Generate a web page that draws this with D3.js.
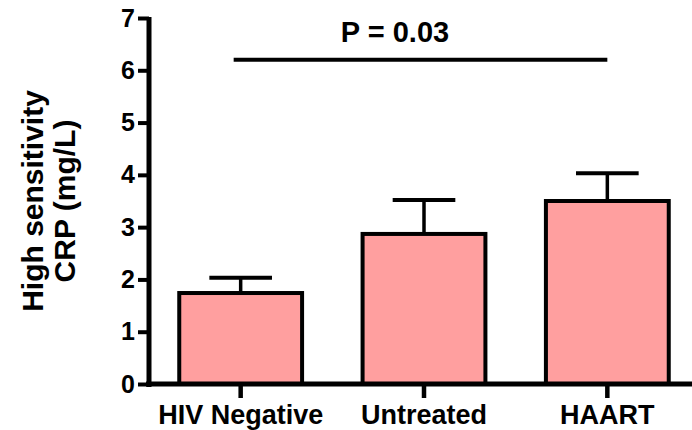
<!DOCTYPE html>
<html>
<head>
<meta charset="utf-8">
<script src="https://cdn.jsdelivr.net/npm/d3@7/dist/d3.min.js"></script>
<style>
  html, body { margin: 0; padding: 0; background: #fff; }
  svg { display: block; }
  text { font-family: "Liberation Sans", Arial, sans-serif; font-weight: bold; fill: #000; }
</style>
</head>
<body>
<svg id="chart" width="692" height="430"></svg>
<script>
// Groups and their mean hsCRP with the upper error (mean + SEM)
const groups = ["HIV Negative", "Untreated", "HAART"];
const means = [1.74, 2.87, 3.50];
const upperErrors = [2.03, 3.52, 4.03];
const yTicks = [0, 1, 2, 3, 4, 5, 6, 7];
const pLabel = "P = 0.03";
const pLineValue = 6.2;
const pLineFrom = "HIV Negative";
const pLineTo = "HAART";

const svg = d3.select("#chart");

const x = d3.scaleBand()
  .domain(groups)
  .range([149, 699])
  .paddingInner(0.33)
  .paddingOuter(0.165);

const y = d3.scaleLinear()
  .domain([0, 7])
  .range([384, 18]);

const barFill = "#ff9f9f";

// Bars
svg.append("g")
  .selectAll("rect")
  .data(groups)
  .join("rect")
  .attr("x", d => x(d))
  .attr("y", (d, i) => y(means[i]))
  .attr("width", x.bandwidth())
  .attr("height", (d, i) => y(0) - y(means[i]))
  .attr("fill", barFill)
  .attr("stroke", "#000")
  .attr("stroke-width", 4);

// Error bars (upper only)
const capW = x.bandwidth() * 0.51;
const err = svg.append("g").attr("stroke", "#000").attr("stroke-linecap", "butt");
err.selectAll("line.stem")
  .data(groups)
  .join("line")
  .attr("class", "stem")
  .attr("x1", d => x(d) + x.bandwidth() / 2)
  .attr("x2", d => x(d) + x.bandwidth() / 2)
  .attr("y1", (d, i) => y(means[i]))
  .attr("y2", (d, i) => y(upperErrors[i]))
  .attr("stroke-width", 3.5);
err.selectAll("line.cap")
  .data(groups)
  .join("line")
  .attr("class", "cap")
  .attr("x1", d => x(d) + x.bandwidth() / 2 - capW / 2)
  .attr("x2", d => x(d) + x.bandwidth() / 2 + capW / 2)
  .attr("y1", (d, i) => y(upperErrors[i]))
  .attr("y2", (d, i) => y(upperErrors[i]))
  .attr("stroke-width", 4);

// X axis
const xAxis = svg.append("g")
  .attr("transform", `translate(0,${y(0)})`)
  .call(d3.axisBottom(x).tickSizeOuter(0).tickSize(14).tickPadding(7));
xAxis.select(".domain").attr("stroke-width", 5).attr("d", `M146,0H699`);
xAxis.selectAll(".tick line").attr("stroke-width", 4.5);
xAxis.selectAll(".tick text")
  .attr("font-size", 27)
  .attr("font-family", "Liberation Sans, Arial, sans-serif")
  .attr("font-weight", "bold");

// Y axis
const yAxis = svg.append("g")
  .attr("transform", `translate(${x.range()[0]},0)`)
  .call(d3.axisLeft(y).tickValues(yTicks).tickFormat(d3.format("d")).tickSize(11).tickSizeOuter(0).tickPadding(3));
yAxis.select(".domain").attr("stroke-width", 5).attr("d", `M0,${y(7) - 1}V${y(0) + 3}`);
yAxis.selectAll(".tick line").attr("stroke-width", 4);
yAxis.selectAll(".tick text")
  .attr("font-size", 25)
  .attr("font-family", "Liberation Sans, Arial, sans-serif")
  .attr("font-weight", "bold");

// Y axis title (two lines)
const title = svg.append("text")
  .attr("transform", `translate(43,201) rotate(-90)`)
  .attr("text-anchor", "middle")
  .attr("font-size", 30);
title.append("tspan").attr("x", 0).attr("dy", 0).text("High sensitivity");
title.append("tspan").attr("x", 0).attr("dy", 32).text("CRP (mg/L)");

// Significance bracket
const pStart = x(pLineFrom) + x.bandwidth() / 2 - 7;
const pEnd = x(pLineTo) + x.bandwidth() / 2;
svg.append("line")
  .attr("x1", pStart).attr("x2", pEnd)
  .attr("y1", y(pLineValue)).attr("y2", y(pLineValue))
  .attr("stroke", "#000").attr("stroke-width", 4);
svg.append("text")
  .attr("x", (x(groups[1]) + x.bandwidth() / 2) - 29)
  .attr("y", 42)
  .attr("text-anchor", "middle")
  .attr("font-size", 29)
  .text(pLabel);
</script>
</body>
</html>
